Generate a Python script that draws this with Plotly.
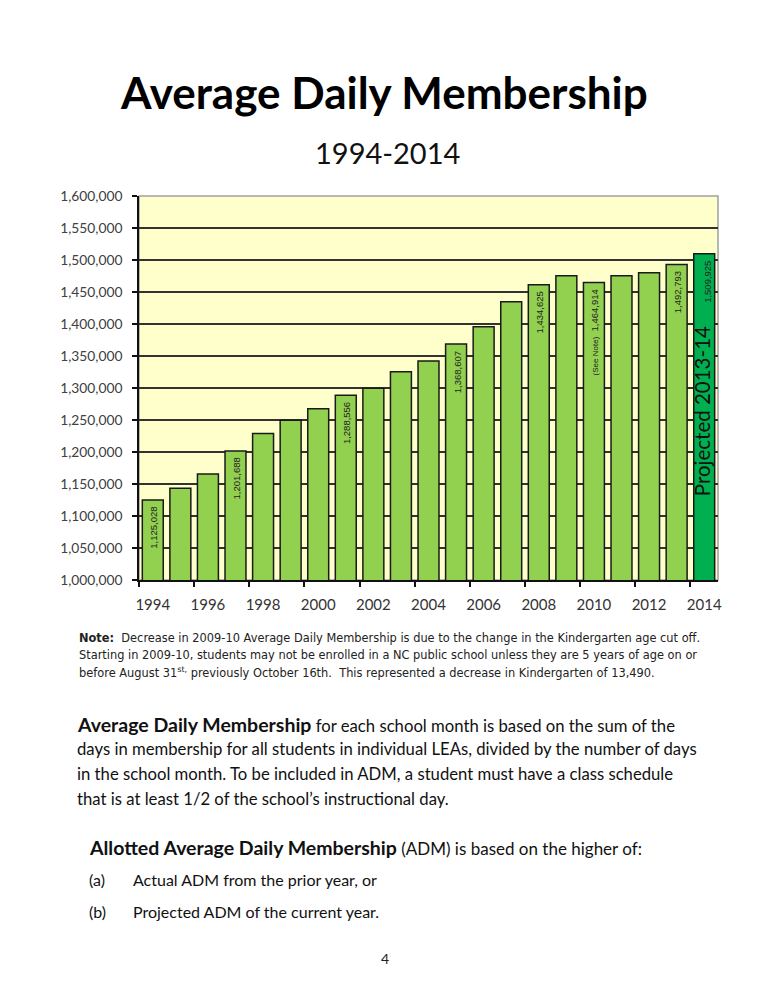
import plotly.graph_objects as go

# ---------------- data ----------------
years = list(range(1994, 2015))
adm = [1125028, 1143200, 1165600, 1201688, 1229000, 1249500, 1267500,
       1288556, 1299500, 1325500, 1342000, 1368607, 1395800, 1434625,
       1461500, 1475500, 1464914, 1475500, 1480000, 1492793, 1509925]
labeled = {1994: "1,125,028", 1997: "1,201,688", 2001: "1,288,556",
           2005: "1,368,607", 2008: "1,434,625", 2010: "1,464,914",
           2013: "1,492,793", 2014: "1,509,925"}
xtick_years = list(range(1994, 2015, 2))
ytick_vals = list(range(1000000, 1600001, 50000))

bar_colors = ["#92D050"] * (len(years) - 1) + ["#00B050"]

# ---------------- layout geometry ----------------
W, H = 768, 994
PL, PR, PT, PB = 139, 718, 196, 580


def px(x):
    return (x - PL) / (PR - PL)


def py(y):
    return (PB - y) / (PB - PT)


FONT = "Lato"
NOTE_FONT = "DejaVu Sans"

fig = go.Figure()
fig.add_trace(go.Bar(
    x=years, y=adm,
    marker=dict(color=bar_colors, line=dict(color="#1a1a1a", width=1.5)),
    width=0.76, hoverinfo="x+y",
))

annotations = []
# value labels inside bars
for yr, v in zip(years, adm):
    if yr not in labeled:
        continue
    txt = labeled[yr]
    if yr == 2010:
        txt = "<span style='font-size:8px'>(See Note)</span>  " + txt
    annotations.append(dict(
        x=yr, y=v, xref="x", yref="y", text=txt, textangle=-90,
        showarrow=False, yanchor="top", xanchor="center", yshift=-5,
        xshift=3 if yr == 2014 else 1,
        font=dict(family="Liberation Sans, Arial", size=9.5, color="#222222"),
    ))
# projected label
annotations.append(dict(
    x=2014, y=1000000, xref="x", yref="y",
    text="Projected 2013-14", textangle=-90, showarrow=False,
    yanchor="bottom", xanchor="center", yshift=82, xshift=-2,
    font=dict(family=FONT, size=20.5, color="#111111"),
))

# titles
annotations.append(dict(
    x=px(384), y=py(92), xref="paper", yref="paper",
    text="<b>Average Daily Membership</b>", showarrow=False,
    xanchor="center", yanchor="middle",
    font=dict(family=FONT, size=44, color="#000000"),
))
annotations.append(dict(
    x=px(387), y=py(152), xref="paper", yref="paper",
    text="1994-2014", showarrow=False,
    xanchor="center", yanchor="middle",
    font=dict(family=FONT, size=29, color="#111111"),
))

# note lines
note_lines = [
    "<b>Note:</b>  Decrease in 2009-10 Average Daily Membership is due to the change in the Kindergarten age cut off.",
    "Starting in 2009-10, students may not be enrolled in a NC public school unless they are 5 years of age on or",
    "before August 31<sup>st,</sup> previously October 16th.  This represented a decrease in Kindergarten of 13,490.",
]
for i, line in enumerate(note_lines):
    annotations.append(dict(
        x=px(77), y=py(638 + 17 * i), xref="paper", yref="paper",
        text=line, showarrow=False, xanchor="left", yanchor="middle",
        font=dict(family=NOTE_FONT, size=11.4, color="#222222"),
    ))

BIG = "<span style='font-size:19.5px'><b>{}</b></span>"
para_lines = [
    BIG.format("Average Daily Membership") + " for each school month is based on the sum of the",
    "days in membership for all students in individual LEAs, divided by the number of days",
    "in the school month. To be included in ADM, a student must have a class schedule",
    "that is at least 1/2 of the school’s instructional day.",
]
for i, line in enumerate(para_lines):
    annotations.append(dict(
        x=px(75), y=py(724 + 25 * i), xref="paper", yref="paper",
        text=line, showarrow=False, xanchor="left", yanchor="middle",
        font=dict(family=FONT, size=16.7, color="#111111"),
    ))

annotations.append(dict(
    x=px(87), y=py(847), xref="paper", yref="paper",
    text=BIG.format("Allotted Average Daily Membership") + " (ADM) is based on the higher of:",
    showarrow=False, xanchor="left", yanchor="middle",
    font=dict(family=FONT, size=17, color="#111111"),
))
for i, (lab, txt) in enumerate([("(a)", "Actual ADM from the prior year, or"),
                                 ("(b)", "Projected ADM of the current year.")]):
    annotations.append(dict(
        x=px(87), y=py(879 + 32 * i), xref="paper", yref="paper",
        text=lab, showarrow=False, xanchor="left", yanchor="middle",
        font=dict(family=FONT, size=16, color="#111111"),
    ))
    annotations.append(dict(
        x=px(131), y=py(879 + 32 * i), xref="paper", yref="paper",
        text=txt, showarrow=False, xanchor="left", yanchor="middle",
        font=dict(family=FONT, size=16, color="#111111"),
    ))

annotations.append(dict(
    x=px(385), y=py(958), xref="paper", yref="paper", text="4",
    showarrow=False, xanchor="center", yanchor="middle",
    font=dict(family=FONT, size=14, color="#222222"),
))

fig.update_layout(
    width=W, height=H,
    margin=dict(l=PL, r=W - PR, t=PT, b=H - PB, pad=0),
    paper_bgcolor="white", plot_bgcolor="#FFFFCC",
    showlegend=False, bargap=0.24,
    annotations=annotations,
    shapes=[dict(type="rect", xref="paper", yref="paper", x0=0, x1=1, y0=0, y1=1,
                 line=dict(color="#A0A0A0", width=1.5), layer="below")],
    font=dict(family=FONT),
)
fig.update_xaxes(
    range=[1993.5, 2014.5], tickmode="array", tickvals=xtick_years,
    ticktext=[str(y) for y in xtick_years], ticks="",
    showline=True, linecolor="#111111", linewidth=1.5, showgrid=False,
    tickfont=dict(family=FONT, size=15, color="#333333"),
    ticklabelstandoff=10,
    minor=dict(tickmode="linear", tick0=1993.5, dtick=2, ticks="outside",
               ticklen=5, tickcolor="#111111", tickwidth=1.5, showgrid=False),
    zeroline=False,
)
fig.update_yaxes(
    range=[1000000, 1600000], tickmode="array", tickvals=ytick_vals,
    tickformat=",", ticks="outside", ticklen=5, tickcolor="#111111", tickwidth=1.5,
    showline=True, linecolor="#111111", linewidth=1.5,
    showgrid=True, gridcolor="#333333", gridwidth=1.5, zeroline=False,
    tickfont=dict(family=FONT, size=13.8, color="#404040"),
    ticklabelstandoff=7,
)

fig.write_html("out.html")
